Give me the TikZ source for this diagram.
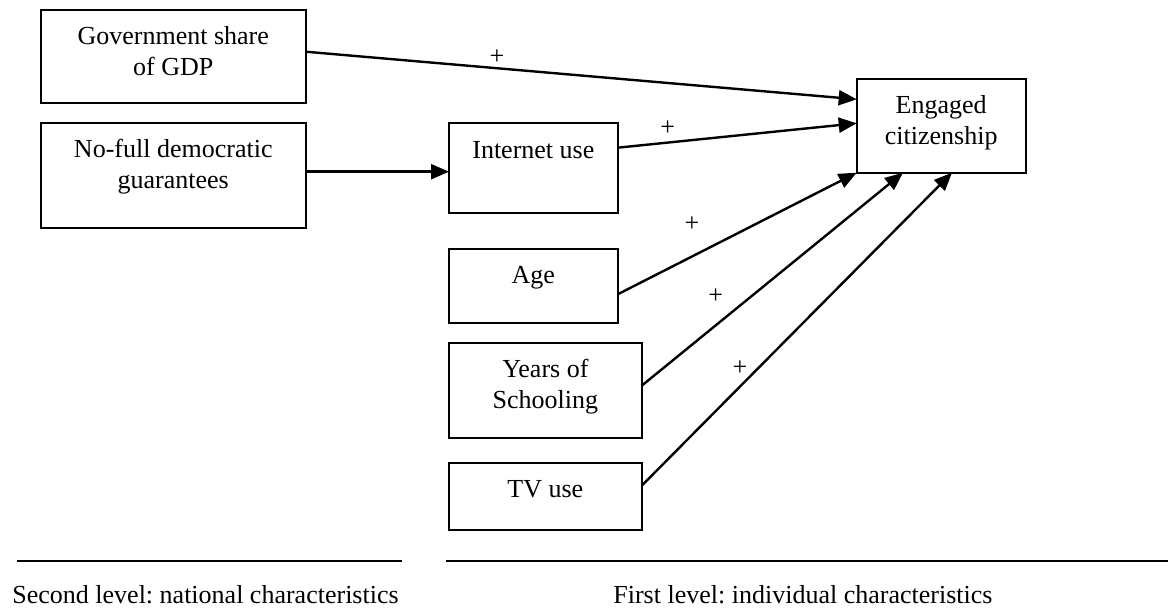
\documentclass[tikz,border=0pt]{standalone}
\usepackage{fontspec}
\setmainfont{Liberation Serif}
\usetikzlibrary{arrows.meta,calc}
\frenchspacing

% box contents: width (px), height (px), text; first baseline sits 35px below the top
\newcommand\boxcontent[3]{%
  \begin{minipage}[t][\dimexpr#2pt/2\relax][t]{\dimexpr#1pt/2\relax}%
    \centering\rule{0pt}{17.5pt}#3%
  \end{minipage}}

\begin{document}
\begin{tikzpicture}[x=0.5pt,y=-0.5pt,
    every node/.style={font=\fontsize{13}{15.5}\selectfont},
    box/.style={draw,line width=1pt,inner sep=0pt,outer sep=0pt,anchor=north west},
    link/.style={line width=1.2pt,-{Triangle[length=9pt,width=7.5pt]}},
    sign/.style={inner sep=0pt},
    rule/.style={line width=1pt}]

  \useasboundingbox (0,0) rectangle (1168,608);

  % second-level (national) variables
  \node[box] (gov)    at (41,10)    {\boxcontent{264.5}{93}{Government share\\of GDP}};
  \node[box] (nofull) at (41,123)   {\boxcontent{264.5}{105}{No-full democratic\\guarantees}};

  % first-level (individual) variables
  \node[box] (inet)   at (449,123.3) {\boxcontent{168.7}{90}{Internet use}};
  \node[box] (age)    at (449,249)   {\boxcontent{168.7}{74.3}{Age}};
  \node[box] (years)  at (449,342.7) {\boxcontent{192.7}{95.6}{Years of\\Schooling}};
  \node[box] (tv)     at (449,462.7) {\boxcontent{192.7}{67.3}{TV use}};

  % outcome
  \node[box] (eng)    at (856.7,79)  {\boxcontent{169}{93.7}{Engaged\\citizenship}};

  % effects
  \draw[link] ($(gov.north east)+(0,41.7)$)    -- ($(eng.north west)+(0,20.3)$);
  \draw[link] ($(inet.north east)+(0,24.4)$)   -- ($(eng.north west)+(0,44.3)$);
  \draw[link] ($(nofull.north east)+(0,48.7)$) -- ($(inet.north west)+(0,48.4)$);
  \draw[link] ($(age.north east)+(0,45.3)$)    -- (eng.south west);
  \draw[link] ($(years.north east)+(0,43)$)    -- ($(eng.south west)+(46.3,0)$);
  \draw[link] ($(tv.north east)+(0,23)$)       -- ($(eng.south west)+(95.3,0)$);

  % signs of the effects
  \node[sign] (s1) at (497,57)    {+};
  \node[sign] (s2) at (667.7,128.3) {+};
  \node[sign] (s3) at (692,224)   {+};
  \node[sign] (s4) at (715.7,296) {+};
  \node[sign] (s5) at (740,368.3) {+};

  % level separators and captions
  \coordinate (l1) at (16.7,560.7);
  \coordinate (l2) at (401.7,560.7);
  \coordinate (r1) at (446,560.7);
  \coordinate (r2) at (1168,560.7);
  \draw[rule] (l1) -- (l2);
  \draw[rule] (r1) -- (r2);
  \node[anchor=base west,inner sep=0pt] (cap2) at (12,604) {Second level: national characteristics};
  \node[anchor=base west,inner sep=0pt] (cap1) at (613,604) {First level: individual characteristics};
\end{tikzpicture}
\end{document}
